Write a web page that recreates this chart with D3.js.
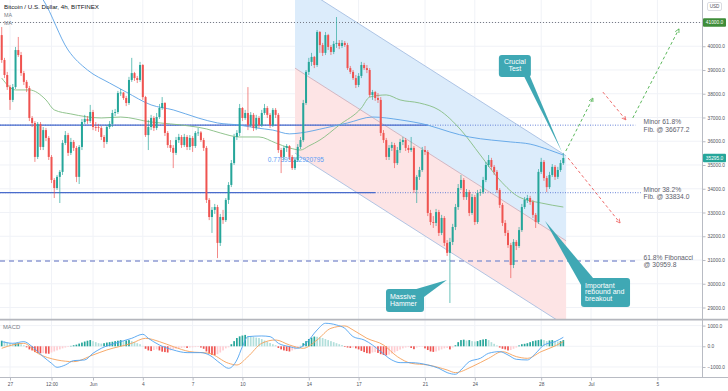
<!DOCTYPE html>
<html><head><meta charset="utf-8">
<script src="https://cdn.jsdelivr.net/npm/d3@7"></script>
<style>html,body{margin:0;padding:0;background:#fff;overflow:hidden}svg{display:block;font-family:"Liberation Sans",Arial,sans-serif}</style>
</head><body><svg id="c" width="728" height="391"></svg>
<script>
// ---------------- DATA ----------------
const firstOpen = 40470;
const closes = [
39420,38790,38280,37740,38280,39840,39630,38870,38500,38240,
36980,36770,35340,36730,35760,36470,36140,35340,34370,34030,
34500,34710,35930,36260,35510,35970,35720,34500,35760,36810,
36940,36850,37230,36600,36590,36560,36180,35970,36600,36730,
37190,37230,38030,38050,37820,37610,38580,38870,38660,38580,
39210,37860,36260,36600,36980,36560,37020,37400,37610,36350,
35840,35720,35510,36050,36180,35840,36180,35760,36140,35800,
36350,36370,36050,35720,33530,32810,33110,33230,31720,32810,
32680,33530,34160,35080,36180,36350,37400,36980,37190,36680,
37110,36560,36980,36680,37190,37400,37110,36680,37320,37110,
35630,35340,35720,35800,35340,34870,35210,35760,36050,37610,
38920,39340,39550,39210,40600,40050,39720,40470,39970,39760,
40100,40140,40010,40140,40050,39080,38920,38660,38370,38750,
39210,39080,39000,37950,38070,37820,37740,36350,36050,35340,
35720,35840,35080,35630,35970,36050,35720,35630,35720,33950,
34500,34790,35630,35550,32980,32600,32560,33020,32140,32770,
31720,31300,31760,32390,33230,34030,34370,33650,33860,32980,
33650,32600,33820,33860,34370,35000,35210,34920,34710,33950,
33320,32560,32140,31630,30790,31760,31590,32260,33230,33530,
33610,33440,32900,32600,34710,35130,34450,34070,34580,34920,
34500,34790,35080,35295];
const highs = [
40810,39510,38920,38370,38410,39970,40390,39760,38960,38580,
38330,37060,36850,36810,36810,36600,36560,36220,35420,34450,
34580,34790,36050,36430,36350,36140,36050,35800,35840,36940,
37110,37060,37530,37320,36810,36730,36640,36260,36680,36850,
37320,37360,38120,38200,38070,37910,38710,39510,38920,38750,
39340,39250,37910,36900,37110,37060,37190,37570,37860,37650,
36430,36050,35840,36180,36310,36260,36310,36260,36260,36220,
36430,36560,36430,36140,35800,33610,33230,33360,33320,32940,
33110,33610,34280,35210,36310,36470,37570,37440,37320,38280,
37230,37190,37110,37060,37320,37570,37480,37190,37400,37400,
37190,35720,35800,35880,35840,35420,35340,35880,36180,37740,
39000,39510,39720,39590,40680,40640,40140,40600,40520,40050,
40220,41230,40260,40260,40220,40140,39170,39000,38790,38870,
39340,39300,39210,39080,38160,38120,38030,37860,36470,36140,
35840,35970,35930,35760,36100,36180,36140,35840,36180,35800,
34580,34920,35760,35800,35630,33110,32850,33150,33110,32900,
32850,31840,31930,32520,33360,34200,34580,34450,33990,33950,
33780,33740,33950,33990,34500,35130,35420,35300,35000,34790,
34030,33400,32680,32260,31720,31880,31840,32390,33360,33650,
33740,33700,33530,32980,34830,35300,35210,34540,34710,35040,
35000,34920,35210,35510];
const lows = [
39300,38660,38160,37320,37650,38200,39550,38750,38370,38070,
36850,36600,35130,35250,35630,35630,36010,35210,34240,33610,
33950,33400,34580,35840,35380,35420,35590,34280,34200,35630,
36730,36730,36770,36470,36430,36390,36050,35720,35880,36520,
36600,37060,37150,37910,37740,37480,37530,38500,38540,38450,
38500,37740,36180,35630,36470,36430,36470,36940,37320,36220,
35720,35550,34870,35420,35930,35720,35760,35630,35630,35550,
35720,36220,35970,35590,33400,32680,32140,32940,31080,31590,
32520,32600,33360,34070,35000,36050,36220,36850,36900,36470,
36600,36430,36470,36560,36600,37110,36980,36560,36600,36980,
35510,34660,35210,35550,35210,34790,34790,35130,35670,35970,
37530,38790,39170,39080,39130,39720,39590,39630,39840,39630,
39670,39930,39880,39930,39970,39000,38830,38580,38240,38280,
38660,39000,38870,37860,37740,37700,37610,36220,35930,35210,
35210,35590,34870,35000,35510,35840,35590,35510,35550,33820,
33400,34370,34710,35420,32850,32470,32350,32430,32010,32050,
31590,31170,29190,31630,32260,33110,33950,33530,33530,32850,
32900,32470,32520,33700,33780,34280,34920,34790,34580,33820,
33190,32430,32010,31510,30240,30660,31420,31510,32180,33150,
33400,33320,32770,32350,32520,34620,34330,33860,33990,34500,
34370,34410,34710,35000];

// moving averages (candle index, value)
const maBlueIdx = [13,15,24,31,39,45,54,62,71,78,86,92,98,104,108,117,125,134,144,154,162,169,177,184,191,198,203];
const maBlueVal = [42280,41950,39840,39000,38450,38070,37530,37320,36980,36770,36680,36560,36470,36310,36350,36560,36770,37020,36900,36680,36390,36180,36050,35970,35880,35630,35420];
const maGreenIdx = [0,5,10,16,19,25,36,43,54,61,68,74,79,86,93,99,104,108,111,115,122,130,133,139,144,151,158,166,173,180,187,195,203];
const maGreenVal = [38660,38160,38160,37740,37320,37150,36980,37020,36810,36730,36640,36520,36350,36180,36180,35930,35720,35630,35800,36050,36680,37400,37860,37950,37740,37610,37320,36470,35420,34370,33650,33400,33230];

// MACD pane
const macdIdx = [0,4,8,11,15,18,20,23,26,30,33,36,41,47,51,53,57,62,67,72,75,79,82,85,87,89,94,97,100,104,107,110,114,117,121,124,127,131,134,137,141,144,148,151,154,158,161,164,166,169,173,176,180,183,186,190,193,196,200,203];
const macdVal = [225,145,225,-16,-500,-821,-1014,-902,-692,-660,-338,-97,145,386,580,386,64,-177,-306,-306,-419,-821,-1063,-660,-16,467,499,467,145,-16,-97,145,789,1111,1030,869,467,306,64,-258,-660,-789,-789,-821,-902,-1063,-1272,-1352,-1143,-740,-580,-338,-258,-419,-628,-660,-338,64,225,435];
const signalIdx = [0,8,13,20,26,33,38,47,52,57,62,68,75,82,85,89,94,99,104,109,114,119,124,127,132,138,143,148,154,161,164,170,176,181,186,190,195,200,203];
const signalVal = [-97,145,-338,-660,-741,-419,-177,145,386,225,-16,-258,-338,-821,-902,-499,145,306,64,-97,306,869,982,789,386,64,-499,-821,-902,-1143,-1272,-982,-580,-258,-499,-580,-258,16,225];
const histVals = [
270,250,200,150, 120,140,150,100, 50,-50,-150, -200,-280,-320,-340, -330,-350,-360,-300,
-250,-200,-150,-100, -60,-30,20, 50,80,130, 180,230,270,300, 250,200,150,130,150,
180,200,220,250,270,300,260,280, 300,250,200,150, 100,20,
-120,-200,-230,-180,-150,-200,-260,-280,-300,-200,-150,-120,-100,-80,-60,-80,-60,-50,-40,-30,-60,
-120,-250,-350,-420,-430,-380, -300,-200,-100,-50, 100,250,400,480, 520,550,500,480, 450,420,400,
350,280,220,160,100,50, -80,-150,-200,-230,-250,-200,-150, -80,20, 150,250,350,420,470, 460,440,400,
350,300,250,200,150,100,60, -30,-60,-80,-60, -100,-150,-220,-280,-330, -350,-300,-280,-320,-380,-420,
-440,-400,-350, -300,-230,-160,-100,-60, -40,-80,-140,-60, -30,-20, -100,-180,-250,-270,-250,-200,
-150,-100,-80,-150,-60, 50,200,300, 320,280,300,250,230, 250,300,330,350,300, 200,120,40,
-60,-120,-150,-200,-180,-120,-60, 40,100,120,150, 200,250,280,300,330,300, 250,280,300,250,230,250,300];

// axes
const priceTicks = [29000,30000,31000,32000,33000,34000,35000,36000,37000,38000,39000,40000,41000];
const macdTicks = [1000,0,-1000];
const timeTickDates = ["2021-05-27T00:00Z","2021-05-29T12:00Z","2021-06-01T00:00Z","2021-06-04T00:00Z","2021-06-07T00:00Z","2021-06-10T00:00Z","2021-06-14T00:00Z","2021-06-17T00:00Z","2021-06-21T00:00Z","2021-06-24T00:00Z","2021-06-28T00:00Z","2021-07-01T00:00Z","2021-07-05T00:00Z"];
const timeTickLabels = ["27","12:00","Jun","4","7","10","14","17","21","24","28","Jul","5"];

// drawings
const targetLevel = 41000;
const lastPrice = 35295;
const fibLevels = [36677.2, 33834.0, 30959.8];
const fibSolidEnd = [154, 135, null];
const fibEnd = [229, 231, 229];
const fibLabels = [["Minor 61.8%","Fib. @ 36677.2"],["Minor 38.2%","Fib. @ 33834.0"],["61.8% Fibonacci","@ 30959.8"]];
const fibLabelIdx = 232;
const channelStart = 106, channelEnd = 204, channelMidStart = 39080, channelSlope = -74.2, channelHalf = 3580;
const pearsonText = "0.77395662920795", pearsonIdx = 96.2, pearsonPrice = 35210;
const projections = [
  {c:"g", from:[203.9,35590], to:[213.7,37820]},
  {c:"r", from:[217.3,38070], to:[225.6,36900]},
  {c:"g", from:[228.1,36980], to:[244.8,40730]},
  {c:"r", from:[204.7,35295], to:[223.5,32560]}
];
const callouts = [
  {lines:["Crucial","Test"], idx:179.7, price:39630, w:32, h:22, tip:[202.5,35550], base:[[25,21],[31,21]], align:"middle"},
  {lines:["Massive","Hammer"], idx:138.9, price:29780, w:38, h:23, tip:[160.9,30160], base:[[27,1],[38,8]], align:"start"},
  {lines:["Important","rebound and","breakout"], idx:209.4, price:30240, w:49, h:29, tip:[196.4,32640], base:[[0,7],[12,0]], align:"start"}
];

// ---------------- SCALES ----------------
const svg = d3.select("#c");
const plotR = 702, priceBot = 319.5, macdTop = 320, macdBot = 377;
const t0 = Date.UTC(2021,4,26,12);
const dateOf = i => new Date(t0 + i*4*3600e3);
const x = d3.scaleUtc().domain([new Date(Date.UTC(2021,4,26,9,32)), new Date(Date.UTC(2021,6,7,16,29))]).range([0, plotR]);
const xi = i => x(dateOf(i));
const y = d3.scaleLinear().domain([28474, 41947]).range([320, 0]);
const ym = d3.scaleLinear().domain([-1483, 1270]).range([macdBot, macdTop]);

const defs = svg.append("defs");
defs.append("clipPath").attr("id","cp").append("rect").attr("x",0).attr("y",0).attr("width",plotR).attr("height",priceBot);
defs.append("clipPath").attr("id","cm").append("rect").attr("x",0).attr("y",macdTop).attr("width",plotR).attr("height",macdBot-macdTop);
[["g","#5cb85c"],["r","#ef6b6b"]].forEach(([k,col])=>{
  defs.append("marker").attr("id","ah"+k).attr("viewBox","0 0 6 6").attr("refX",5).attr("refY",3)
    .attr("markerWidth",5).attr("markerHeight",5).attr("orient","auto").attr("markerUnits","userSpaceOnUse")
    .append("path").attr("d","M0,0.5L5,3L0,5.5").attr("fill","none").attr("stroke",col).attr("stroke-width",1);
});
svg.append("rect").attr("width",728).attr("height",391).attr("fill","#fff");

// grid
const grid = svg.append("g").attr("stroke","#f0f2f7").attr("stroke-width",1);
timeTickDates.forEach(d=>{ const xx=x(new Date(d)); grid.append("line").attr("x1",xx).attr("x2",xx).attr("y1",0).attr("y2",macdBot); });
priceTicks.forEach(p=>grid.append("line").attr("x1",0).attr("x2",plotR).attr("y1",y(p)).attr("y2",y(p)));
macdTicks.forEach(p=>grid.append("line").attr("x1",0).attr("x2",plotR).attr("y1",ym(p)).attr("y2",ym(p)));

// ---------------- PRICE PANE ----------------
const pp = svg.append("g").attr("clip-path","url(#cp)");
const chMid = i => channelMidStart + channelSlope*(i-channelStart);
const chIdx = [channelStart, channelEnd];
pp.append("path").attr("fill","#dcecfb").attr("d",
  d3.area().x(i=>xi(i)).y0(i=>y(chMid(i))).y1(i=>y(chMid(i)+channelHalf))(chIdx));
pp.append("path").attr("fill","#fde4e5").attr("d",
  d3.area().x(i=>xi(i)).y0(i=>y(chMid(i)-channelHalf)).y1(i=>y(chMid(i)))(chIdx));
[channelHalf, 0, -channelHalf].forEach((o,k)=>{
  pp.append("line").attr("x1",xi(channelStart)).attr("x2",xi(channelEnd))
    .attr("y1",y(chMid(channelStart)+o)).attr("y2",y(chMid(channelEnd)+o))
    .attr("stroke", k===1 ? "#c7a9b8" : "#9db7de").attr("stroke-width",0.8);
});
pp.append("text").attr("x",xi(pearsonIdx)).attr("y",y(pearsonPrice)).attr("font-size",6.5)
  .attr("fill","#5b9cf6").attr("dominant-baseline","middle").text(pearsonText);

// target dotted line
pp.append("line").attr("x1",0).attr("x2",plotR).attr("y1",y(targetLevel)).attr("y2",y(targetLevel))
  .attr("stroke","#6a6d78").attr("stroke-width",0.9).attr("stroke-dasharray","1,2");

// fib lines
fibLevels.forEach((lv,k)=>{
  const yy = y(lv);
  if (fibSolidEnd[k] === null) {
    pp.append("line").attr("x1",0).attr("x2",xi(fibEnd[k])).attr("y1",yy).attr("y2",yy)
      .attr("stroke","#8e9bd4").attr("stroke-width",1.4).attr("stroke-dasharray","5,4");
  } else {
    pp.append("line").attr("x1",0).attr("x2",xi(fibEnd[k])).attr("y1",yy).attr("y2",yy)
      .attr("stroke","#5877d4").attr("stroke-width",0.9).attr("stroke-dasharray","1,1.5");
    pp.append("line").attr("x1",0).attr("x2",xi(fibSolidEnd[k])).attr("y1",yy).attr("y2",yy)
      .attr("stroke","#4a6ccc").attr("stroke-width",1.3);
  }
});

// moving averages
const ln = d3.line().curve(d3.curveMonotoneX);
pp.append("path").attr("fill","none").attr("stroke","#86bd82").attr("stroke-width",0.9)
  .attr("d", ln(maGreenIdx.map((d,k)=>[xi(d), y(maGreenVal[k])])));
pp.append("path").attr("fill","none").attr("stroke","#5ba3e6").attr("stroke-width",0.9)
  .attr("d", ln(maBlueIdx.map((d,k)=>[xi(d), y(maBlueVal[k])])));

// candles
const opens = closes.map((c,i)=> i===0 ? firstOpen : closes[i-1]);
const up = "#26a69a", dn = "#ef5350";
const cg = pp.append("g");
closes.forEach((c,i)=>{
  const o = opens[i], col = c >= o ? up : dn, xx = xi(i);
  cg.append("line").attr("x1",xx).attr("x2",xx).attr("y1",y(highs[i])).attr("y2",y(lows[i]))
    .attr("stroke",col).attr("stroke-width",0.8).attr("opacity",0.85);
  const top = y(Math.max(o,c)), bot = y(Math.min(o,c));
  cg.append("rect").attr("x",xx-1).attr("width",2).attr("y",top).attr("height",Math.max(0.8,bot-top)).attr("fill",col);
});

// projections
projections.forEach(p=>{
  pp.append("line").attr("x1",xi(p.from[0])).attr("y1",y(p.from[1])).attr("x2",xi(p.to[0])).attr("y2",y(p.to[1]))
    .attr("stroke", p.c==="g" ? "#5cb85c" : "#ef6b6b").attr("stroke-width",1).attr("stroke-dasharray","3,2.5")
    .attr("marker-end","url(#ah"+p.c+")");
});

// fib labels
fibLevels.forEach((lv,k)=>{
  const t = svg.append("text").attr("x",xi(fibLabelIdx)).attr("font-size",6.7).attr("fill","#5d606b");
  t.append("tspan").attr("x",xi(fibLabelIdx)).attr("y",y(lv)-2.5).attr("dominant-baseline","middle").text(fibLabels[k][0]);
  t.append("tspan").attr("x",xi(fibLabelIdx)).attr("y",y(lv)+4.7).attr("dominant-baseline","middle").text(fibLabels[k][1]);
});

// callouts
const calCol = "#3fa8b4";
callouts.forEach(c=>{
  const bx = xi(c.idx), by = y(c.price);
  const g = svg.append("g");
  g.append("path").attr("fill",calCol)
    .attr("d",`M${bx+c.base[0][0]},${by+c.base[0][1]}L${xi(c.tip[0])},${y(c.tip[1])}L${bx+c.base[1][0]},${by+c.base[1][1]}Z`);
  g.append("rect").attr("x",bx).attr("y",by).attr("width",c.w).attr("height",c.h).attr("rx",3).attr("fill",calCol);
  const n = c.lines.length, lh = 6.8;
  c.lines.forEach((s,k)=>{
    g.append("text").attr("x", c.align==="middle" ? bx+c.w/2 : bx+4)
      .attr("y", by + c.h/2 + (k-(n-1)/2)*lh).attr("dominant-baseline","middle")
      .attr("text-anchor", c.align).attr("font-size",7).attr("fill","#fff").text(s);
  });
});

// ---------------- MACD PANE ----------------
const mp = svg.append("g").attr("clip-path","url(#cm)");
histVals.forEach((v,i)=>{
  const prev = i>0 ? histVals[i-1] : v;
  const col = v>=0 ? (v>=prev ? "#26a69a" : "#b2dfdb") : (v<=prev ? "#ef5350" : "#ffcdd2");
  const y0 = ym(0), y1 = ym(v);
  mp.append("rect").attr("x",xi(i)-0.85).attr("width",1.7).attr("y",Math.min(y0,y1)).attr("height",Math.abs(y1-y0)).attr("fill",col);
});
mp.append("path").attr("fill","none").attr("stroke","#f5a05a").attr("stroke-width",0.9)
  .attr("d", ln(signalIdx.map((d,k)=>[xi(d), ym(signalVal[k])])));
mp.append("path").attr("fill","none").attr("stroke","#4fa3f0").attr("stroke-width",0.9)
  .attr("d", ln(macdIdx.map((d,k)=>[xi(d), ym(macdVal[k])])));
svg.append("text").attr("x",3).attr("y",327.5).attr("font-size",5.8).attr("fill","#787b86").attr("dominant-baseline","middle").text("MACD");

// ---------------- AXES ----------------
svg.append("line").attr("x1",plotR+0.5).attr("x2",plotR+0.5).attr("y1",0).attr("y2",macdBot).attr("stroke","#b8bbc3").attr("stroke-width",1);
svg.append("line").attr("x1",0).attr("x2",728).attr("y1",319.6).attr("y2",319.6).attr("stroke","#b4b6bd").attr("stroke-width",1.6);
svg.append("line").attr("x1",0).attr("x2",728).attr("y1",macdBot+0.5).attr("y2",macdBot+0.5).attr("stroke","#b8bbc3").attr("stroke-width",1);

// the 41000 tick is shown by its highlighted label box instead of a plain tick label
const ay = svg.append("g").attr("transform",`translate(${plotR+0.5},0)`)
  .call(d3.axisRight(y).tickValues(priceTicks).tickFormat(d=> d===targetLevel ? "" : d3.format(".1f")(d)).tickSize(3).tickPadding(2));
const aym = svg.append("g").attr("transform",`translate(${plotR+0.5},0)`)
  .call(d3.axisRight(ym).tickValues(macdTicks).tickFormat(d3.format(".1f")).tickSize(3).tickPadding(2));
const ax = svg.append("g").attr("transform",`translate(0,${macdBot+0.5})`)
  .call(d3.axisBottom(x).tickValues(timeTickDates.map(d=>new Date(d))).tickFormat((d,k)=>timeTickLabels[k]).tickSize(3).tickPadding(2));
[ay,aym,ax].forEach(a=>{
  a.select(".domain").remove();
  a.selectAll(".tick line").attr("stroke","#b8bbc3");
  a.selectAll(".tick text").attr("fill","#50535e").attr("font-size",4.8).attr("font-family","Liberation Sans, Arial, sans-serif");
});

// price label boxes
[[targetLevel,"#3f8d3a"],[lastPrice,"#26a69a"]].forEach(([v,col])=>{
  const yy = y(v);
  svg.append("rect").attr("x",plotR+1).attr("y",yy-4.2).attr("width",23).attr("height",8.4).attr("rx",1).attr("fill",col);
  svg.append("text").attr("x",plotR+12.5).attr("y",yy+0.3).attr("text-anchor","middle").attr("dominant-baseline","middle")
    .attr("font-size",4.8).attr("fill","#fff").text(d3.format(".1f")(v));
});
svg.append("rect").attr("x",707.5).attr("y",2.5).attr("width",14).attr("height",8).attr("rx",1.5).attr("fill","#fff").attr("stroke","#c3c5cc").attr("stroke-width",0.6);
svg.append("text").attr("x",714.5).attr("y",6.7).attr("text-anchor","middle").attr("dominant-baseline","middle").attr("font-size",4.6).attr("fill","#50535e").text("USD");

// titles
svg.append("text").attr("x",4).attr("y",7.5).attr("font-size",6.2).attr("fill","#131722").attr("dominant-baseline","middle").text("Bitcoin / U.S. Dollar, 4h, BITFINEX");
svg.append("text").attr("x",4).attr("y",15.3).attr("font-size",5.4).attr("fill","#787b86").attr("dominant-baseline","middle").text("MA");
svg.append("text").attr("x",4).attr("y",23.3).attr("font-size",5.4).attr("fill","#787b86").attr("dominant-baseline","middle").text("MA");
</script></body></html>
